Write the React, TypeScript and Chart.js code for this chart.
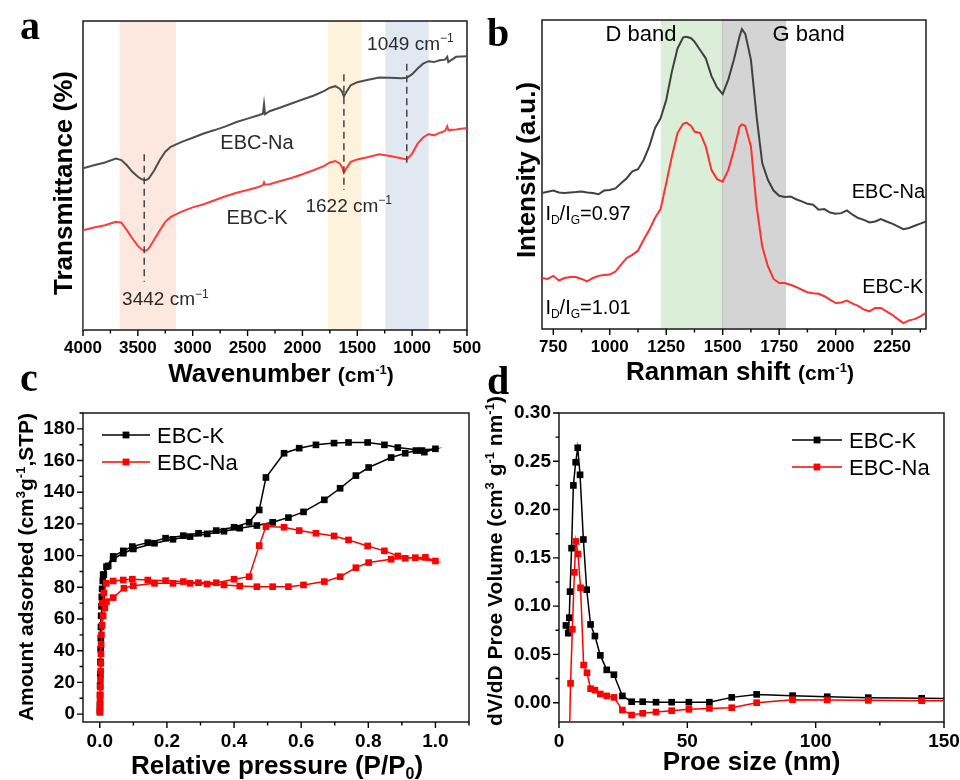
import { useEffect, useRef } from "react";
import { Chart, registerables } from "chart.js";

Chart.register(...registerables);

// ================= DATA =================
// (a) FTIR
const ftirWavenumber = [4000, 3900, 3800, 3700, 3650, 3600, 3550, 3500, 3470, 3442, 3420, 3400, 3350, 3300, 3250, 3200, 3100, 3000, 2900, 2800, 2700, 2600, 2500, 2400, 2360, 2350, 2340, 2300, 2200, 2100, 2000, 1900, 1800, 1750, 1700, 1660, 1640, 1622, 1600, 1560, 1500, 1400, 1300, 1200, 1100, 1049, 1000, 950, 900, 850, 800, 750, 700, 680, 670, 600, 500];
const ftirNa = [52.3, 53.3, 54.2, 55.5, 55.0, 53.3, 51.2, 49.6, 48.9, 48.5, 48.6, 49.0, 51.7, 55.0, 57.7, 59.3, 60.9, 62.2, 63.6, 64.7, 65.9, 67.3, 68.4, 69.5, 70.0, 73.1, 69.8, 70.8, 72.0, 73.3, 74.6, 75.8, 77.4, 78.4, 78.9, 78.1, 77.2, 75.6, 77.0, 79.2, 80.2, 81.0, 81.7, 81.6, 81.5, 81.6, 82.8, 84.6, 86.2, 87.0, 86.7, 87.3, 87.5, 88.4, 86.7, 88.4, 88.6];
const ftirK = [32.3, 33.2, 33.9, 35.0, 34.7, 32.3, 29.6, 27.2, 26.2, 25.6, 25.8, 26.4, 29.3, 32.3, 35.0, 36.6, 38.3, 39.7, 40.7, 42.0, 43.3, 44.4, 45.3, 46.3, 46.9, 47.8, 47.0, 47.2, 48.2, 49.2, 50.4, 51.7, 53.1, 54.2, 54.7, 53.9, 52.8, 50.9, 52.3, 54.4, 55.2, 56.0, 56.9, 56.3, 55.6, 55.2, 57.1, 60.3, 62.3, 63.4, 63.0, 63.8, 64.4, 65.9, 64.7, 64.9, 65.4];
const ftirKEdgeStart = [4000, 0];
const ftirPeaks = [3442, 1622, 1049];
const ftirPeakTop = [56.9, 82.8, 86.2];
const ftirPeakBottom = [15.6, 45.3, 52.8];
const ftirBandFrom = [3666, 1767, 1244];
const ftirBandTo = [3152, 1463, 849];
const ftirTicks = [4000, 3500, 3000, 2500, 2000, 1500, 1000, 500];

// (b) Raman
const ramanShift = [700, 725, 750, 775, 800, 825, 850, 875, 900, 925, 950, 975, 1000, 1025, 1050, 1075, 1100, 1125, 1150, 1175, 1200, 1225, 1250, 1275, 1300, 1325, 1340, 1360, 1375, 1400, 1425, 1450, 1475, 1500, 1525, 1550, 1575, 1585, 1600, 1625, 1650, 1675, 1700, 1725, 1750, 1775, 1800, 1825, 1850, 1875, 1900, 1925, 1950, 1975, 2000, 2025, 2050, 2075, 2100, 2125, 2150, 2175, 2200, 2225, 2250, 2275, 2300, 2325, 2350, 2375, 2400];
const ramanNa = [44.0, 44.4, 44.8, 44.2, 44.0, 44.2, 44.3, 44.5, 44.2, 44.0, 43.6, 44.8, 45.0, 45.5, 47.2, 48.8, 51.0, 51.7, 54.7, 59.1, 65.0, 68.2, 74.1, 83.3, 90.8, 94.4, 94.6, 94.1, 93.0, 90.3, 87.6, 81.9, 78.2, 76.0, 80.8, 87.3, 94.8, 97.0, 95.5, 87.1, 68.8, 53.7, 48.3, 44.8, 43.1, 42.7, 42.9, 42.0, 41.3, 40.5, 40.2, 38.6, 38.8, 37.7, 37.3, 37.5, 38.4, 37.0, 35.9, 35.3, 34.5, 34.8, 35.6, 34.8, 34.1, 33.2, 32.3, 32.7, 33.4, 34.1, 34.8];
const ramanK = [16.5, 16.2, 17.2, 15.7, 16.5, 16.8, 16.8, 16.2, 15.4, 16.5, 17.2, 17.5, 17.6, 18.6, 20.8, 23.0, 24.0, 25.4, 28.9, 32.1, 35.9, 38.8, 47.2, 55.8, 63.4, 66.4, 66.8, 65.7, 63.9, 63.4, 59.1, 51.5, 48.5, 47.7, 51.5, 58.0, 65.5, 66.2, 65.7, 59.1, 39.7, 26.7, 20.3, 16.2, 14.9, 14.9, 14.3, 13.6, 12.7, 11.9, 11.6, 11.4, 10.6, 9.5, 8.4, 8.6, 9.2, 8.2, 7.5, 6.3, 5.7, 6.8, 6.8, 5.7, 4.6, 3.2, 1.9, 2.8, 3.2, 4.1, 5.2];
const ramanBandD = [1226, 1500];
const ramanBandG = [1500, 1780];
const ramanTicks = [750, 1000, 1250, 1500, 1750, 2000, 2250];

// (c) N2 isotherms (adsorption then desorption)
const betKPressure = [0.0003, 0.0005, 0.0008, 0.001, 0.0015, 0.002, 0.0025, 0.003, 0.0035, 0.004, 0.005, 0.006, 0.007, 0.009, 0.012, 0.025, 0.04, 0.07, 0.10, 0.163, 0.218, 0.269, 0.32, 0.37, 0.417, 0.468, 0.515, 0.562, 0.607, 0.669, 0.716, 0.763, 0.801, 0.868, 0.91, 0.942, 1.0, 0.967, 0.96, 0.888, 0.848, 0.798, 0.741, 0.698, 0.644, 0.594, 0.549, 0.495, 0.475, 0.445, 0.40, 0.347, 0.294, 0.249, 0.196, 0.143, 0.097, 0.07, 0.04, 0.02, 0.01];
const betKAmount = [2, 6, 12, 18, 25, 33, 41, 48, 55, 62, 68, 74, 79, 84, 88, 93.5, 98, 101.5, 104.2, 107.8, 110.3, 112, 113.7, 115.4, 117.3, 119, 121, 124, 127.6, 135.2, 142.5, 150.5, 155.6, 161.9, 164.6, 166.3, 167.4, 165.3, 166.3, 168.2, 169.9, 171.4, 171.4, 171, 169.9, 167.8, 164.6, 149.3, 128.8, 121, 117.9, 115.8, 114.1, 112.6, 111, 108.2, 105.7, 103, 99.5, 93, 88];
const betNaPressure = [0.0003, 0.0005, 0.0008, 0.001, 0.0015, 0.002, 0.0025, 0.003, 0.0035, 0.004, 0.005, 0.007, 0.01, 0.015, 0.02, 0.04, 0.072, 0.10, 0.163, 0.218, 0.269, 0.32, 0.37, 0.417, 0.468, 0.515, 0.562, 0.607, 0.669, 0.716, 0.763, 0.801, 0.868, 0.91, 0.94, 0.97, 1.0, 0.888, 0.848, 0.798, 0.741, 0.698, 0.644, 0.594, 0.549, 0.495, 0.475, 0.445, 0.40, 0.347, 0.294, 0.249, 0.196, 0.143, 0.097, 0.07, 0.04, 0.019, 0.012, 0.007];
const betNaAmount = [1, 4, 8, 12, 17, 22, 27, 32, 38, 44, 50, 56, 62, 67, 71, 73.5, 79.4, 81, 82.5, 82.5, 82.5, 82.1, 81.5, 80.8, 80.4, 80.4, 80.4, 81.5, 83.6, 86.7, 92.4, 95.6, 97.7, 98.3, 98.7, 98.9, 96.6, 99.8, 103, 106.1, 109.9, 112.4, 114.1, 115.8, 117.9, 118.3, 106.3, 86.7, 85.1, 82.9, 82.9, 83.6, 84.2, 84.6, 85.1, 84.6, 84, 82.5, 76.4, 70];
const betXTicks = [0, 0.2, 0.4, 0.6, 0.8, 1.0];
const betYTicks = [0, 20, 40, 60, 80, 100, 120, 140, 160, 180];

// (d) pore size distribution
const psdKSize = [2.7, 3.6, 4.0, 4.3, 4.9, 5.6, 6.5, 7.3, 8.2, 9.5, 10.8, 12.3, 14.0, 16.1, 18.6, 21.4, 24.7, 28.3, 32.6, 37.8, 43.9, 50.6, 58.6, 67.3, 77.0, 91.0, 104.5, 120.5, 141.3, 165];
const psdKVolume = [0.080, 0.072, 0.088, 0.115, 0.160, 0.225, 0.249, 0.264, 0.236, 0.169, 0.117, 0.081, 0.069, 0.049, 0.034, 0.029, 0.007, 0.001, 0.001, 0.0005, 0.0005, 0.0005, 0.0005, 0.0055, 0.0086, 0.0073, 0.0062, 0.0052, 0.0045, 0.0038];
const psdNaSize = [3.9, 4.5, 5.2, 6.0, 6.6, 7.4, 8.4, 9.6, 10.9, 12.3, 14.0, 16.1, 18.6, 21.4, 24.7, 28.3, 32.6, 37.8, 43.9, 50.6, 58.6, 67.3, 77.0, 91.0, 104.5, 120.5, 141.3, 165];
const psdNaVolume = [-0.06, 0.020, 0.076, 0.135, 0.167, 0.154, 0.119, 0.039, 0.031, 0.0145, 0.013, 0.009, 0.007, 0.0055, -0.0076, -0.0128, -0.011, -0.0097, -0.0083, -0.0069, -0.0059, -0.0052, 0.0, 0.0031, 0.0028, 0.0024, 0.0021, 0.0016];
const psdXTicks = [0, 50, 100, 150];
const psdYTicks = [0, 0.05, 0.10, 0.15, 0.20, 0.25, 0.30];

// ================= DRAWING HELPERS =================
const W = 960;
const H = 780;
const Y_W = 70;
const SANS = "'Liberation Sans', Arial, sans-serif";
const SERIF = "'Liberation Serif', 'Times New Roman', serif";

type Area = { l: number; t: number; r: number; b: number };
type Run = { t: string; s: number; b?: boolean; dy?: number };
const T = (t: string, s: number, b = false): Run => ({ t, s, b });
const SUP = (t: string, s: number, b = false): Run => ({ t, s: Math.round(s * 0.62), b, dy: -s * 0.4 });
const SUB = (t: string, s: number, b = false): Run => ({ t, s: Math.round(s * 0.62), b, dy: s * 0.2 });
const fontOf = (r: Run) => `${r.b ? "bold " : ""}${r.s}px ${SANS}`;

function drawRuns(ctx: CanvasRenderingContext2D, runs: Run[], x: number, y: number, align: "left" | "center" | "right", color: string, vertical = false) {
  ctx.save();
  ctx.translate(x, y);
  if (vertical) ctx.rotate(-Math.PI / 2);
  ctx.fillStyle = color;
  ctx.textBaseline = "alphabetic";
  ctx.textAlign = "left";
  let w = 0;
  for (const r of runs) {
    ctx.font = fontOf(r);
    w += ctx.measureText(r.t).width;
  }
  let cx = align === "center" ? -w / 2 : align === "right" ? -w : 0;
  for (const r of runs) {
    ctx.font = fontOf(r);
    ctx.fillText(r.t, cx, r.dy || 0);
    cx += ctx.measureText(r.t).width;
  }
  ctx.restore();
}

function minorValues(min: number, max: number, step: number, majors: number[]) {
  const out: number[] = [];
  for (let k = Math.ceil(min / step - 1e-9); k * step <= max + 1e-9; k++) {
    const v = k * step;
    if (!majors.some((m) => Math.abs(m - v) < step * 1e-3)) out.push(v);
  }
  return out;
}

function drawFrame(chart: any) {
  const { ctx, chartArea: a } = chart;
  ctx.save();
  ctx.strokeStyle = "#1a1a1a";
  ctx.lineWidth = 1.5;
  ctx.strokeRect(a.left, a.top, a.right - a.left, a.bottom - a.top);
  ctx.restore();
}

function drawTicks(chart: any, xMinor: number, yMinor: number | null) {
  const { ctx, chartArea: a } = chart;
  const xs = chart.scales.x;
  const ys = chart.scales.y;
  ctx.save();
  ctx.strokeStyle = "#000";
  ctx.lineWidth = 1.4;
  ctx.beginPath();
  const xMaj = xs.ticks.map((t: any) => t.value);
  for (const v of xMaj) {
    const p = xs.getPixelForValue(v);
    ctx.moveTo(p, a.bottom);
    ctx.lineTo(p, a.bottom + 6);
  }
  for (const v of minorValues(xs.min, xs.max, xMinor, xMaj)) {
    const p = xs.getPixelForValue(v);
    ctx.moveTo(p, a.bottom);
    ctx.lineTo(p, a.bottom + 3.5);
  }
  if (yMinor !== null) {
    const yMaj = ys.ticks.map((t: any) => t.value);
    for (const v of yMaj) {
      const p = ys.getPixelForValue(v);
      ctx.moveTo(a.left, p);
      ctx.lineTo(a.left - 6, p);
    }
    for (const v of minorValues(ys.min, ys.max, yMinor, yMaj)) {
      const p = ys.getPixelForValue(v);
      ctx.moveTo(a.left, p);
      ctx.lineTo(a.left - 3.5, p);
    }
  }
  ctx.stroke();
  ctx.restore();
}

function drawBand(chart: any, from: number, to: number, color: string) {
  const { ctx, chartArea: a } = chart;
  const xs = chart.scales.x;
  const p1 = xs.getPixelForValue(from);
  const p2 = xs.getPixelForValue(to);
  ctx.save();
  ctx.fillStyle = color;
  ctx.fillRect(Math.min(p1, p2), a.top, Math.abs(p2 - p1), a.bottom - a.top);
  ctx.restore();
}

function drawLetter(ctx: CanvasRenderingContext2D, letter: string, x: number, y: number) {
  ctx.save();
  ctx.font = `bold 40px ${SERIF}`;
  ctx.fillStyle = "#000";
  ctx.textBaseline = "alphabetic";
  ctx.fillText(letter, x, y);
  ctx.restore();
}

function drawLegend(chart: any, items: { label: string; color: string }[], dx: number, dy: number, gap: number, len: number) {
  const { ctx, chartArea: a } = chart;
  items.forEach((it, i) => {
    const x0 = a.left + dx;
    const y0 = a.top + dy + i * gap;
    ctx.save();
    ctx.strokeStyle = it.color;
    ctx.lineWidth = 1.5;
    ctx.beginPath();
    ctx.moveTo(x0, y0);
    ctx.lineTo(x0 + len, y0);
    ctx.stroke();
    ctx.fillStyle = it.color;
    ctx.fillRect(x0 + len / 2 - 3.4, y0 - 3.4, 6.8, 6.8);
    ctx.restore();
    drawRuns(ctx, [T(it.label, 22)], x0 + len + 7, y0 + 8, "left", "#000");
  });
}

// place text with its cap-centre at a data coordinate
function dataText(chart: any, runs: Run[], vx: number, vy: number, align: "left" | "center" | "right", color: string) {
  const px = chart.scales.x.getPixelForValue(vx);
  const py = chart.scales.y.getPixelForValue(vy);
  drawRuns(chart.ctx, runs, px, py + runs[0].s * 0.36, align, color);
}

interface AxisSpec {
  min: number;
  max: number;
  reverse?: boolean;
  ticks?: number[];
  fmt?: (v: number) => string;
  size?: number;
}

function scaleOptions(spec: AxisSpec, horizontal: boolean, area: Area) {
  const o: any = {
    type: "linear",
    min: spec.min,
    max: spec.max,
    reverse: !!spec.reverse,
    ticks: {
      display: !!spec.ticks,
      autoSkip: false,
      maxRotation: 0,
      minRotation: 0,
      padding: 8,
      color: "#000",
      font: { family: SANS, size: spec.size || 17, weight: "bold" },
      callback: (v: any) => (spec.fmt ? spec.fmt(Number(v)) : String(v)),
    },
    grid: { display: false, drawTicks: false },
    border: { display: false },
    afterFit: (s: any) => {
      if (horizontal) {
        s.height = H - area.b;
        s.paddingLeft = 0;
        s.paddingRight = 0;
      } else {
        s.width = Y_W;
        s.paddingTop = 0;
        s.paddingBottom = 0;
      }
    },
  };
  if (spec.ticks) {
    const tv = spec.ticks;
    o.afterBuildTicks = (s: any) => {
      s.ticks = tv.map((v) => ({ value: v }));
    };
  }
  return o;
}

function makeConfig(area: Area, xs: AxisSpec, ys: AxisSpec, datasets: any[], plugin: any) {
  return {
    type: "scatter",
    data: { datasets },
    options: {
      responsive: false,
      animation: false,
      devicePixelRatio: 1,
      events: [],
      layout: { padding: { left: area.l - Y_W, top: area.t, right: W - area.r, bottom: 0 } },
      scales: { x: scaleOptions(xs, true, area), y: scaleOptions(ys, false, area) },
      plugins: { legend: { display: false }, tooltip: { enabled: false } },
      elements: { line: { tension: 0 } },
    },
    plugins: [plugin],
  } as any;
}

const xy = (xsArr: number[], ysArr: number[]) => xsArr.map((x, i) => ({ x, y: ysArr[i] }));

const lineDs = (data: any[], color: string, width: number, order: number) => ({
  data,
  showLine: true,
  borderColor: color,
  borderWidth: width,
  pointRadius: 0,
  order,
});

const markerDs = (data: any[], color: string, order: number) => ({
  data,
  showLine: true,
  borderColor: color,
  borderWidth: 1.5,
  pointStyle: "rect",
  pointRadius: 4.7,
  pointBackgroundColor: color,
  pointBorderColor: color,
  pointBorderWidth: 0,
  order,
});

// ================= PANELS =================
function panelA() {
  const area: Area = { l: 83, t: 21, r: 467, b: 330 };
  const datasets: any[] = [
    lineDs(xy(ftirWavenumber, ftirNa), "#4d4d4d", 2, 2),
    lineDs([{ x: ftirKEdgeStart[0], y: ftirKEdgeStart[1] }, ...xy(ftirWavenumber, ftirK)], "#ff3b3b", 2, 2),
  ];
  ftirPeaks.forEach((p, i) => {
    datasets.push({
      ...lineDs([{ x: p, y: ftirPeakTop[i] }, { x: p, y: ftirPeakBottom[i] }], "#444", 1.5, 0),
      borderDash: [7, 4.5],
    });
  });
  const bandColors = ["#fde8e0", "#fdf3dc", "#e2e8f2"];
  const plugin = {
    id: "decoA",
    beforeDatasetsDraw(chart: any) {
      ftirBandFrom.forEach((f, i) => drawBand(chart, f, ftirBandTo[i], bandColors[i]));
      drawFrame(chart);
    },
    afterDatasetsDraw(chart: any) {
      const { ctx, chartArea: a } = chart;
      drawTicks(chart, 250, null);
      const c = "#2b2b2b";
      dataText(chart, [T("EBC-Na", 20)], 2414, 60.9, "center", c);
      dataText(chart, [T("EBC-K", 20)], 2414, 36.6, "center", c);
      dataText(chart, [T("1049 cm", 19), SUP("−1", 19)], 1016, 92.9, "center", c);
      dataText(chart, [T("1622 cm", 19), SUP("−1", 19)], 1578, 40.4, "center", c);
      dataText(chart, [T("3442 cm", 19), SUP("−1", 19)], 3249, 10.2, "center", c);
      drawRuns(ctx, [T("Wavenumber ", 26, true), T("(cm", 21, true), SUP("-1", 21, true), T(")", 21, true)], (a.left + a.right) / 2 + 6, 382, "center", "#000");
      drawRuns(ctx, [T("Transmittance (%)", 26, true)], 72, 183, "center", "#000", true);
      drawLetter(ctx, "a", 20, 39);
    },
  };
  return makeConfig(area, { min: 500, max: 4000, reverse: true, ticks: ftirTicks, size: 17 }, { min: 0, max: 100 }, datasets, plugin);
}

function panelB() {
  const area: Area = { l: 542, t: 20, r: 926, b: 329 };
  const datasets = [lineDs(xy(ramanShift, ramanNa), "#404040", 2, 1), lineDs(xy(ramanShift, ramanK), "#ff3030", 2, 1)];
  const plugin = {
    id: "decoB",
    beforeDatasetsDraw(chart: any) {
      drawBand(chart, ramanBandD[0], ramanBandD[1], "#dbeed8");
      drawBand(chart, ramanBandG[0], ramanBandG[1], "#d4d4d4");
      const { ctx, chartArea: a } = chart;
      const p = chart.scales.x.getPixelForValue(ramanBandG[0]);
      ctx.save();
      ctx.strokeStyle = "#b8c4b6";
      ctx.lineWidth = 1;
      ctx.beginPath();
      ctx.moveTo(p, a.top);
      ctx.lineTo(p, a.bottom);
      ctx.stroke();
      ctx.restore();
      drawFrame(chart);
    },
    afterDatasetsDraw(chart: any) {
      const { ctx, chartArea: a } = chart;
      drawTicks(chart, 125, null);
      dataText(chart, [T("D band", 22)], 1138, 95.7, "center", "#000");
      dataText(chart, [T("G band", 22)], 1880, 95.7, "center", "#000");
      dataText(chart, [T("EBC-Na", 20)], 2396, 44.8, "right", "#000");
      dataText(chart, [T("EBC-K", 20)], 2388, 14.0, "right", "#000");
      dataText(chart, [T("I", 20), SUB("D", 20), T("/I", 20), SUB("G", 20), T("=0.97", 20)], 715, 37.5, "left", "#000");
      dataText(chart, [T("I", 20), SUB("D", 20), T("/I", 20), SUB("G", 20), T("=1.01", 20)], 715, 7.3, "left", "#000");
      drawRuns(ctx, [T("Ranman shift ", 26, true), T("(cm", 21, true), SUP("-1", 21, true), T(")", 21, true)], (a.left + a.right) / 2 + 6, 380, "center", "#000");
      drawRuns(ctx, [T("Intensity (a.u.)", 26, true)], 535, 170, "center", "#000", true);
      drawLetter(ctx, "b", 487, 46);
    },
  };
  return makeConfig(area, { min: 700, max: 2400, ticks: ramanTicks, size: 17 }, { min: 0, max: 100 }, datasets, plugin);
}

function panelC() {
  const area: Area = { l: 83, t: 413, r: 469, b: 722 };
  const datasets = [markerDs(xy(betNaPressure, betNaAmount), "#ff0000", 0), markerDs(xy(betKPressure, betKAmount), "#000000", 1)];
  const plugin = {
    id: "decoC",
    beforeDatasetsDraw(chart: any) {
      drawFrame(chart);
    },
    afterDatasetsDraw(chart: any) {
      const { ctx, chartArea: a } = chart;
      drawTicks(chart, 0.1, 10);
      drawLegend(chart, [{ label: "EBC-K", color: "#000" }, { label: "EBC-Na", color: "#ff0000" }], 19, 22, 27, 48);
      drawRuns(ctx, [T("Relative pressure (P/P", 26, true), SUB("0", 26, true), T(")", 26, true)], (a.left + a.right) / 2 + 1, 774, "center", "#000");
      drawRuns(ctx, [T("Amount adsorbed (cm", 21, true), SUP("3", 21, true), T("g", 21, true), SUP("-1", 21, true), T(",STP)", 21, true)], 33, 567, "center", "#000", true);
      drawLetter(ctx, "c", 20, 391);
    },
  };
  return makeConfig(area, { min: -0.05, max: 1.1, ticks: betXTicks, fmt: (v) => v.toFixed(1), size: 19 }, { min: -5, max: 190, ticks: betYTicks, fmt: (v) => String(Math.round(v)), size: 19 }, datasets, plugin);
}

function panelD() {
  const area: Area = { l: 559, t: 413, r: 944, b: 722 };
  const datasets = [markerDs(xy(psdNaSize, psdNaVolume), "#ff0000", 0), markerDs(xy(psdKSize, psdKVolume), "#000000", 1)];
  const plugin = {
    id: "decoD",
    beforeDatasetsDraw(chart: any) {
      drawFrame(chart);
    },
    afterDatasetsDraw(chart: any) {
      const { ctx, chartArea: a } = chart;
      drawTicks(chart, 25, 0.025);
      drawLegend(chart, [{ label: "EBC-K", color: "#000" }, { label: "EBC-Na", color: "#ff0000" }], 233, 27, 27, 50);
      drawRuns(ctx, [T("Proe size (nm)", 26, true)], (a.left + a.right) / 2, 770, "center", "#000");
      drawRuns(
        ctx,
        [T("dV/dD Proe Volume (cm", 21, true), SUP("3", 21, true), T(" g", 21, true), SUP("-1", 21, true), T(" nm", 21, true), SUP("-1", 21, true), T(")", 21, true)],
        502,
        561,
        "center",
        "#000",
        true
      );
      drawLetter(ctx, "d", 487, 394);
    },
  };
  return makeConfig(area, { min: 0, max: 150, ticks: psdXTicks, fmt: (v) => String(Math.round(v)), size: 19 }, { min: -0.02, max: 0.3, ticks: psdYTicks, fmt: (v) => v.toFixed(2), size: 19 }, datasets, plugin);
}

export default function App() {
  const r0 = useRef<HTMLCanvasElement>(null);
  const r1 = useRef<HTMLCanvasElement>(null);
  const r2 = useRef<HTMLCanvasElement>(null);
  const r3 = useRef<HTMLCanvasElement>(null);
  useEffect(() => {
    const refs = [r0, r1, r2, r3];
    const makers = [panelA, panelB, panelC, panelD];
    const charts = makers.map((mk, i) => new Chart(refs[i].current as HTMLCanvasElement, mk()));
    return () => charts.forEach((c) => c.destroy());
  }, []);
  const style: any = { position: "absolute", left: 0, top: 0, width: W, height: H };
  return (
    <div style={{ position: "fixed", left: 0, top: 0, width: W, height: H, background: "#fff", overflow: "hidden" }}>
      <canvas ref={r0} width={W} height={H} style={style} />
      <canvas ref={r1} width={W} height={H} style={style} />
      <canvas ref={r2} width={W} height={H} style={style} />
      <canvas ref={r3} width={W} height={H} style={style} />
    </div>
  );
}
